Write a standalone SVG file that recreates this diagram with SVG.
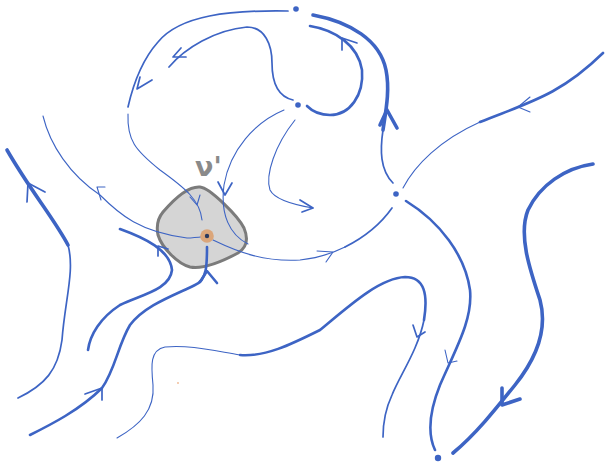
<svg xmlns="http://www.w3.org/2000/svg" width="605" height="465" viewBox="0 0 605 465">
<style>
.f{fill:none;stroke:#3d64c4;stroke-linecap:round;stroke-linejoin:round}
.t1{stroke-width:1.1}
.t2{stroke-width:1.7}
.t3{stroke-width:2.6}
.t4{stroke-width:3.6}
.dot{fill:#3d64c4}
</style>
<rect width="605" height="465" fill="#ffffff"/>
<g id="node-region">
<path d="M163,212 C175,198 188,186 200,187 C210,188 238,216 244,228 C249,240 246,248 238,253 C225,260 205,270 190,267 C178,264 162,248 158,235 C156,225 158,218 163,212 Z" fill="#d5d5d5" stroke="#7b7b7b" stroke-width="3"/>
<text x="195" y="176" font-family="DejaVu Sans, sans-serif" font-size="27" font-weight="bold" fill="#8a8a8a">ν'</text>
</g>
<g id="connectors">
<path class="f t2" d="M288,11 C230,10 180,15 158,42 C142,60 133,85 128,107"/>
<polyline class="f t2" points="140,77 137,89 152,80"/>
<path class="f t1" d="M128,114 C127,140 135,150 160,170 C185,188 200,200 202,220"/>
<polyline class="f t1" points="190,197 197,205 200,195"/>
<path class="f t2" d="M169,67 C185,48 215,30 247,27 C265,27 272,45 272,63 C272,85 280,97 293,100"/>
<polyline class="f t2" points="181,48 173,57 186,57"/>
<path class="f t3" d="M310,26 C335,30 358,45 362,70 C364,95 350,115 330,115 C318,115 311,110 307,106"/>
<polyline class="f t2" points="342,50 342,38 357,43"/>
<path class="f t2" d="M393,183 C380,170 380,150 383,130"/>
<path class="f t4" d="M383,130 C386,110 390,90 386,70 C380,40 350,22 313,15"/>
<polyline class="f t4" points="380,125 387,110 397,128"/>
<path class="f t1" d="M284,110 C255,122 230,150 224,185 C220,215 230,235 248,244"/>
<polyline class="f t2" points="218,182 225,195 232,183"/>
<path class="f t1" d="M295,120 C275,145 265,175 270,190 C275,200 295,205 313,208"/>
<polyline class="f t2" points="300,200 313,208 302,212"/>
<path class="f t1" d="M403,188 C415,165 440,140 480,122"/>
<path class="f t3" d="M480,122 C530,102 560,95 603,53"/>
<polyline class="f t1" points="530,97 518,107 530,112"/>
<path class="f t1" d="M213,240 C240,253 265,262 300,260 C320,258 333,253 345,247"/>
<path class="f t2" d="M345,247 C365,237 380,225 392,208"/>
<polyline class="f t1" points="317,251 333,252 326,262"/>
<path class="f t3" d="M406,201 C440,222 465,255 470,290 C473,320 455,350 440,385 C428,415 428,435 435,450"/>
<polyline class="f t1" points="445,350 448,363 457,361"/>
<path class="f t4" d="M593,164 C565,168 540,185 528,210 C518,235 530,270 540,300 C548,330 535,360 515,385 C495,410 475,435 453,453"/>
<polyline class="f t4" points="502,388 502,405 520,399"/>
<path class="f t1" d="M117,438 C140,425 155,410 153,385 C151,365 150,350 165,347 C190,345 210,350 240,355"/>
<path class="f t3" d="M240,355 C265,357 290,345 320,330 C350,305 380,278 405,277 C425,277 428,295 424,320"/>
<path class="f t2" d="M424,320 C418,350 400,375 392,395 C385,410 383,425 383,437"/>
<polyline class="f t2" points="413,325 417,337 425,332"/>
<path class="f t4" d="M7,150 C30,190 55,220 68,245"/>
<path class="f t2" d="M68,245 C75,270 65,300 62,340 C58,370 45,385 18,398"/>
<polyline class="f t2" points="27,202 28,183 45,192"/>
<path class="f t1" d="M43,116 C50,145 70,175 100,195 C120,215 140,232 187,238 C195,238 200,237 207,236"/>
<polyline class="f t1" points="101,200 97,187 105,187"/>
<path class="f t3" d="M120,229 C145,238 170,250 172,270 C170,290 140,295 120,305 C100,318 90,335 88,350"/>
<polyline class="f t2" points="158,256 158,246 168,249"/>
<path class="f t3" d="M207,247 C207,265 207,280 195,285 C175,295 145,305 130,325 C118,345 115,370 102,388 C80,410 50,425 30,435"/>
<polyline class="f t3" points="200,282 207,271 217,283"/>
<polyline class="f t2" points="85,394 102,388 102,400"/>
</g>
<g id="node-source">
<circle cx="207" cy="236" r="6.8" fill="#dba67a"/>
<circle cx="207" cy="236" r="2.2" fill="#2b3a5e"/>
</g>
<g id="node-p1"><circle class="dot" cx="296" cy="9" r="2.8"/></g>
<g id="node-p2"><circle class="dot" cx="298" cy="105" r="2.8"/></g>
<g id="node-p3"><circle class="dot" cx="396" cy="194" r="2.8"/></g>
<g id="node-p4"><circle class="dot" cx="438" cy="458" r="3.2"/></g>
<circle cx="178" cy="383" r="0.9" fill="#f0b890"/>
</svg>
